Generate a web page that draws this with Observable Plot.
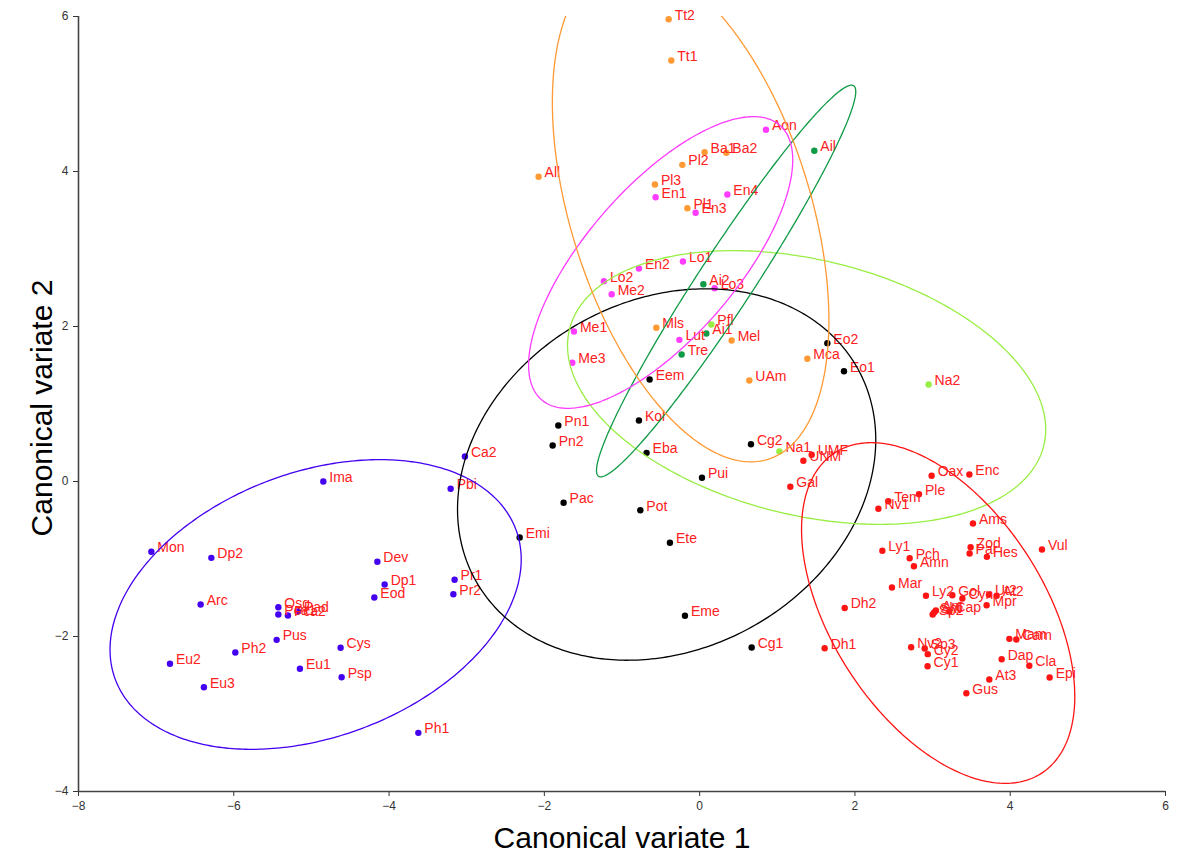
<!DOCTYPE html>
<html><head><meta charset="utf-8">
<script src="https://cdn.jsdelivr.net/npm/d3@7"></script>
<script src="https://cdn.jsdelivr.net/npm/@observablehq/plot@0.6"></script>
<style>body{margin:0;background:#fff;} svg{font-family:"Liberation Sans",Arial,sans-serif;}</style>
</head><body><div id="chart"></div>
<script>
// groups and colours
const groupNames = ["blue", "black", "lightgreen", "darkgreen", "magenta", "orange", "red"];
const groupColors = ["#4400f0", "#000000", "#99ee44", "#0f9a45", "#ff3cff", "#ff9933", "#ff1414"];
const labelColor = "#ff2020";

// [label, canonical variate 1, canonical variate 2]
const bluePoints = [
  ["Mon",-7.062,-0.907],["Dp2",-6.289,-0.985],["Ima",-4.847,0.0],["Ca2",-3.023,0.323],["Pbi",-3.207,-0.094],
  ["Dev",-4.151,-1.036],["Dp1",-4.057,-1.329],["Eod",-4.190,-1.497],["Pr1",-3.156,-1.268],["Pr2",-3.172,-1.454],
  ["Arc",-6.427,-1.587],["Osg",-5.426,-1.622],["Pca1",-5.426,-1.716],["Pca2",-5.303,-1.729],["Pad",-5.174,-1.677],
  ["Pus",-5.448,-2.043],["Ph2",-5.980,-2.206],["Eu2",-6.822,-2.352],["Eu1",-5.148,-2.417],["Cys",-4.624,-2.146],
  ["Psp",-4.611,-2.525],["Eu3",-6.385,-2.654],["Ph1",-3.623,-3.243]
];
const blackPoints = [
  ["Pn1",-1.820,0.723],["Kol",-0.782,0.787],["Pn2",-1.893,0.465],["Eba",-0.683,0.370],["Cg2",0.661,0.481],
  ["Pui",0.030,0.048],["Pac",-1.752,-0.275],["Pot",-0.764,-0.370],["Emi",-2.318,-0.723],["Ete",-0.383,-0.791],
  ["Eme",-0.189,-1.733],["Cg1",0.670,-2.142],["Eo2",1.645,1.785],["Eo1",1.859,1.423],["Eem",-0.644,1.316]
];
const lightGreenPoints = [["Pfl",0.151,2.026],["Na1",1.027,0.387],["Na2",2.949,1.252]];
const darkGreenPoints = [["Ail",1.477,4.267],["Ai2",0.048,2.546],["Ai1",0.086,1.910],["Tre",-0.232,1.639]];
const magentaPoints = [
  ["Aon",0.854,4.538],["En4",0.357,3.703],["En1",-0.567,3.668],["En3",-0.052,3.467],["Lo1",-0.215,2.839],
  ["En2",-0.782,2.748],["Lo2",-1.233,2.585],["Me2",-1.133,2.417],["Lo3",0.193,2.494],["Me1",-1.619,1.935],
  ["Lut",-0.261,1.828],["Me3",-1.640,1.532]
];
const orangePoints = [
  ["Tt2",-0.399,5.965],["Tt1",-0.365,5.432],["All",-2.074,3.932],["Ba1",0.064,4.249],["Ba2",0.344,4.241],
  ["Pl2",-0.223,4.086],["Pl3",-0.576,3.832],["Pl1",-0.158,3.526],["Mls",-0.558,1.983],["Mel",0.412,1.819],
  ["Mca",1.387,1.583],["UAm",0.640,1.303]
];
const redPoints = [
  ["UMF",1.443,0.345],["UNM",1.336,0.267],["Gal",1.168,-0.068],["Oax",2.988,0.074],["Enc",3.474,0.090],
  ["Ple",2.825,-0.164],["Tem",2.430,-0.254],["Nv1",2.302,-0.352],["Ams",3.520,-0.542],["Vul",4.409,-0.877],
  ["Zod",3.490,-0.848],["Par",3.477,-0.929],["Hes",3.700,-0.972],["Ly1",2.353,-0.894],["Pch",2.705,-0.990],
  ["Amn",2.760,-1.093],["Mar",2.477,-1.368],["Ly2",2.915,-1.475],["Gol",3.255,-1.467],["Cyn",3.384,-1.510],
  ["Ut2",3.726,-1.462],["At2",3.825,-1.475],["Mpr",3.696,-1.596],["Dh2",1.868,-1.632],["Sp2",3.001,-1.716],
  ["Sht",3.020,-1.690],["Ant",3.043,-1.665],["Cap",3.216,-1.677],["Dh1",1.610,-2.151],["Nv2",2.724,-2.138],
  ["Sp3",2.899,-2.155],["Cy2",2.938,-2.228],["Cy1",2.936,-2.383],["Mam",3.989,-2.030],["Cam",4.079,-2.039],
  ["Dap",3.890,-2.293],["Cla",4.246,-2.378],["Epi",4.508,-2.529],["At3",3.731,-2.555],["Gus",3.435,-2.732]
];

// ellipse parameters per group (centre, semi-axes, rotation in degrees)
const ellipseCx    = [-4.946, -0.425, 1.378, 0.341, -0.502, -0.116, 3.072];
const ellipseCy    = [-1.587, 0.090, 1.213, 2.587, 2.826, 3.485, -1.697];
const ellipseA     = [2.755, 2.815, 3.145, 3.008, 2.343, 3.35, 2.459];
const ellipseB     = [1.707, 2.252, 1.646, 0.356, 0.972, 1.546, 1.371];
const ellipseAngle = [20.6, 29, -13.8, 56.9, 49.1, -72.7, -57.3];

const xTicks = [-8, -6, -4, -2, 0, 2, 4, 6];
const yTicks = [-4, -2, 0, 2, 4, 6];

const groups = [bluePoints, blackPoints, lightGreenPoints, darkGreenPoints, magentaPoints, orangePoints, redPoints];
const points = [];
groups.forEach((g, i) => g.forEach(([name, x, y]) => points.push({name, x, y, color: groupColors[i]})));

const ellipsePts = [];
groupNames.forEach((gname, i) => {
  const th = ellipseAngle[i] * Math.PI / 180;
  for (let k = 0; k <= 360; k++) {
    const t = k * Math.PI / 180;
    const ex = ellipseA[i] * Math.cos(t), ey = ellipseB[i] * Math.sin(t);
    ellipsePts.push({g: gname, color: groupColors[i],
      x: ellipseCx[i] + ex * Math.cos(th) - ey * Math.sin(th),
      y: ellipseCy[i] + ex * Math.sin(th) + ey * Math.cos(th)});
  }
});

const chart = Plot.plot({
  width: 1182, height: 861,
  marginLeft: 78, marginRight: 17, marginTop: 16, marginBottom: 70,
  x: {domain: [-8, 6]},
  y: {domain: [-4, 6]},
  color: {type: "identity"},
  style: {fontFamily: "'Liberation Sans', Arial, sans-serif", background: "#fff", overflow: "visible"},
  marks: [
    Plot.axisX({ticks: xTicks, tickSize: 5, tickPadding: 5, fontSize: 12, label: null, color: "#333"}),
    Plot.axisY({ticks: yTicks, tickSize: 5, tickPadding: 5, fontSize: 12, label: null, color: "#333"}),
    Plot.ruleX([-8], {stroke: "#444", strokeWidth: 1.6}),
    Plot.ruleY([-4], {stroke: "#444", strokeWidth: 1.6}),
    Plot.dot(points, {x: "x", y: "y", fill: "color", r: 3.2}),
    Plot.text(points, {x: "x", y: "y", text: "name", dx: 6, dy: -4, textAnchor: "start", fill: labelColor, fontSize: 14}),
    Plot.line(ellipsePts, {x: "x", y: "y", z: "g", stroke: "color", strokeWidth: 1.3, clip: true}),
    Plot.text(["Canonical variate 1"], {frameAnchor: "bottom", textAnchor: "middle", dy: 56, fontSize: 30, fill: "#000"}),
    Plot.text(["Canonical variate 2"], {frameAnchor: "left", textAnchor: "middle", dx: -36, dy: 4, rotate: -90, fontSize: 30, fill: "#000"})
  ]
});
document.getElementById("chart").appendChild(chart);
</script>
</body></html>
